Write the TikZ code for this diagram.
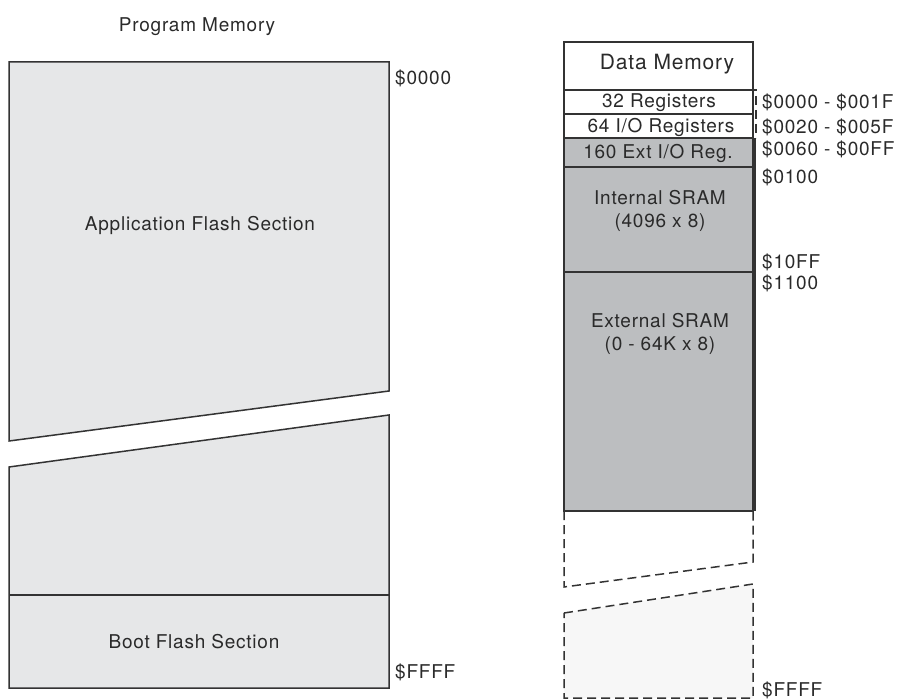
\documentclass[tikz,border=0pt]{standalone}
\usepackage{fontspec}
\setmainfont{TeX Gyre Heros}[LetterSpace=4]
\definecolor{progfill}{HTML}{E6E7E8}
\definecolor{datafill}{HTML}{BCBEC0}
\definecolor{lightfill}{HTML}{F7F7F7}
\definecolor{ink}{HTML}{333333}
\definecolor{txt}{HTML}{2A2A2A}
\begin{document}
\begin{tikzpicture}[x=1pt,y=-1pt,
  every node/.style={inner sep=0pt,text=txt,font=\fontsize{19}{23}\selectfont},
  region/.style={draw=ink,line width=1.5pt},
  dashedge/.style={draw=ink,line width=1.5pt,dash pattern=on 9pt off 5pt},
  addr/.style={anchor=west,align=left},
  lbl/.style={align=center}]
\useasboundingbox (0,0) rectangle (901,700);
% ---------- Program memory ----------
\node[lbl] (ptitle) at (197,27) {Program Memory};
\path[region,fill=progfill] (9,62) -- (389,62) -- (389,391) -- (9,441) -- cycle;
\path[region,fill=progfill] (9,467) -- (389,415) -- (389,688) -- (9,688) -- cycle;
\draw[ink,line width=1.5pt] (9,595) -- (389,595);
\node[lbl] (app) at (200,225) {Application Flash Section};
\node[lbl] (boot) at (194,642) {Boot Flash Section};
\node[addr] (p0) at (395,78) {\$0000};
\node[addr] (pF) at (395,672) {\$FFFF};
% ---------- Data memory ----------
\path[region,fill=white] (564,42) rectangle (753,90);
\node[lbl,font=\fontsize{21}{25}\selectfont] (dtitle) at (667,64) {Data Memory};
\path[region,fill=white] (564,90) rectangle (753,114);
\path[region,fill=white] (564,114) rectangle (753,138);
\path[region,fill=datafill] (564,138) rectangle (753,167);
\path[region,fill=datafill] (564,167) rectangle (753,272);
\path[region,fill=datafill] (564,272) rectangle (753,511);
\draw[ink,line width=3pt] (754,138) -- (754,511);
\draw[dashedge] (636,90) -- (756,90) -- (756,138);
\node[lbl] (r32) at (659,103) {32 Registers};
\node[lbl] (r64) at (661,127) {64 I/O Registers};
\node[lbl] (r160) at (658,153) {160 Ext I/O Reg.};
\node[lbl] (isram) at (660,211) {Internal SRAM\\(4096 x 8)};
\node[lbl] (esram) at (660,334) {External SRAM\\(0 - 64K x 8)};
% dashed continuation
\draw[dashedge] (564,511) -- (564,587) -- (753,562) -- (753,511);
\path[dashedge,fill=lightfill] (564,613) -- (753,584) -- (753,698) -- (564,698) -- cycle;
% address labels
\node[addr] (a1) at (762,102) {\$0000 - \$001F};
\node[addr] (a2) at (762,127) {\$0020 - \$005F};
\node[addr] (a3) at (762,149) {\$0060 - \$00FF};
\node[addr] (a4) at (762,177) {\$0100};
\node[addr] (a5) at (762,262) {\$10FF};
\node[addr] (a6) at (762,283) {\$1100};
\node[addr] (a7) at (762,690) {\$FFFF};
\end{tikzpicture}
\end{document}
